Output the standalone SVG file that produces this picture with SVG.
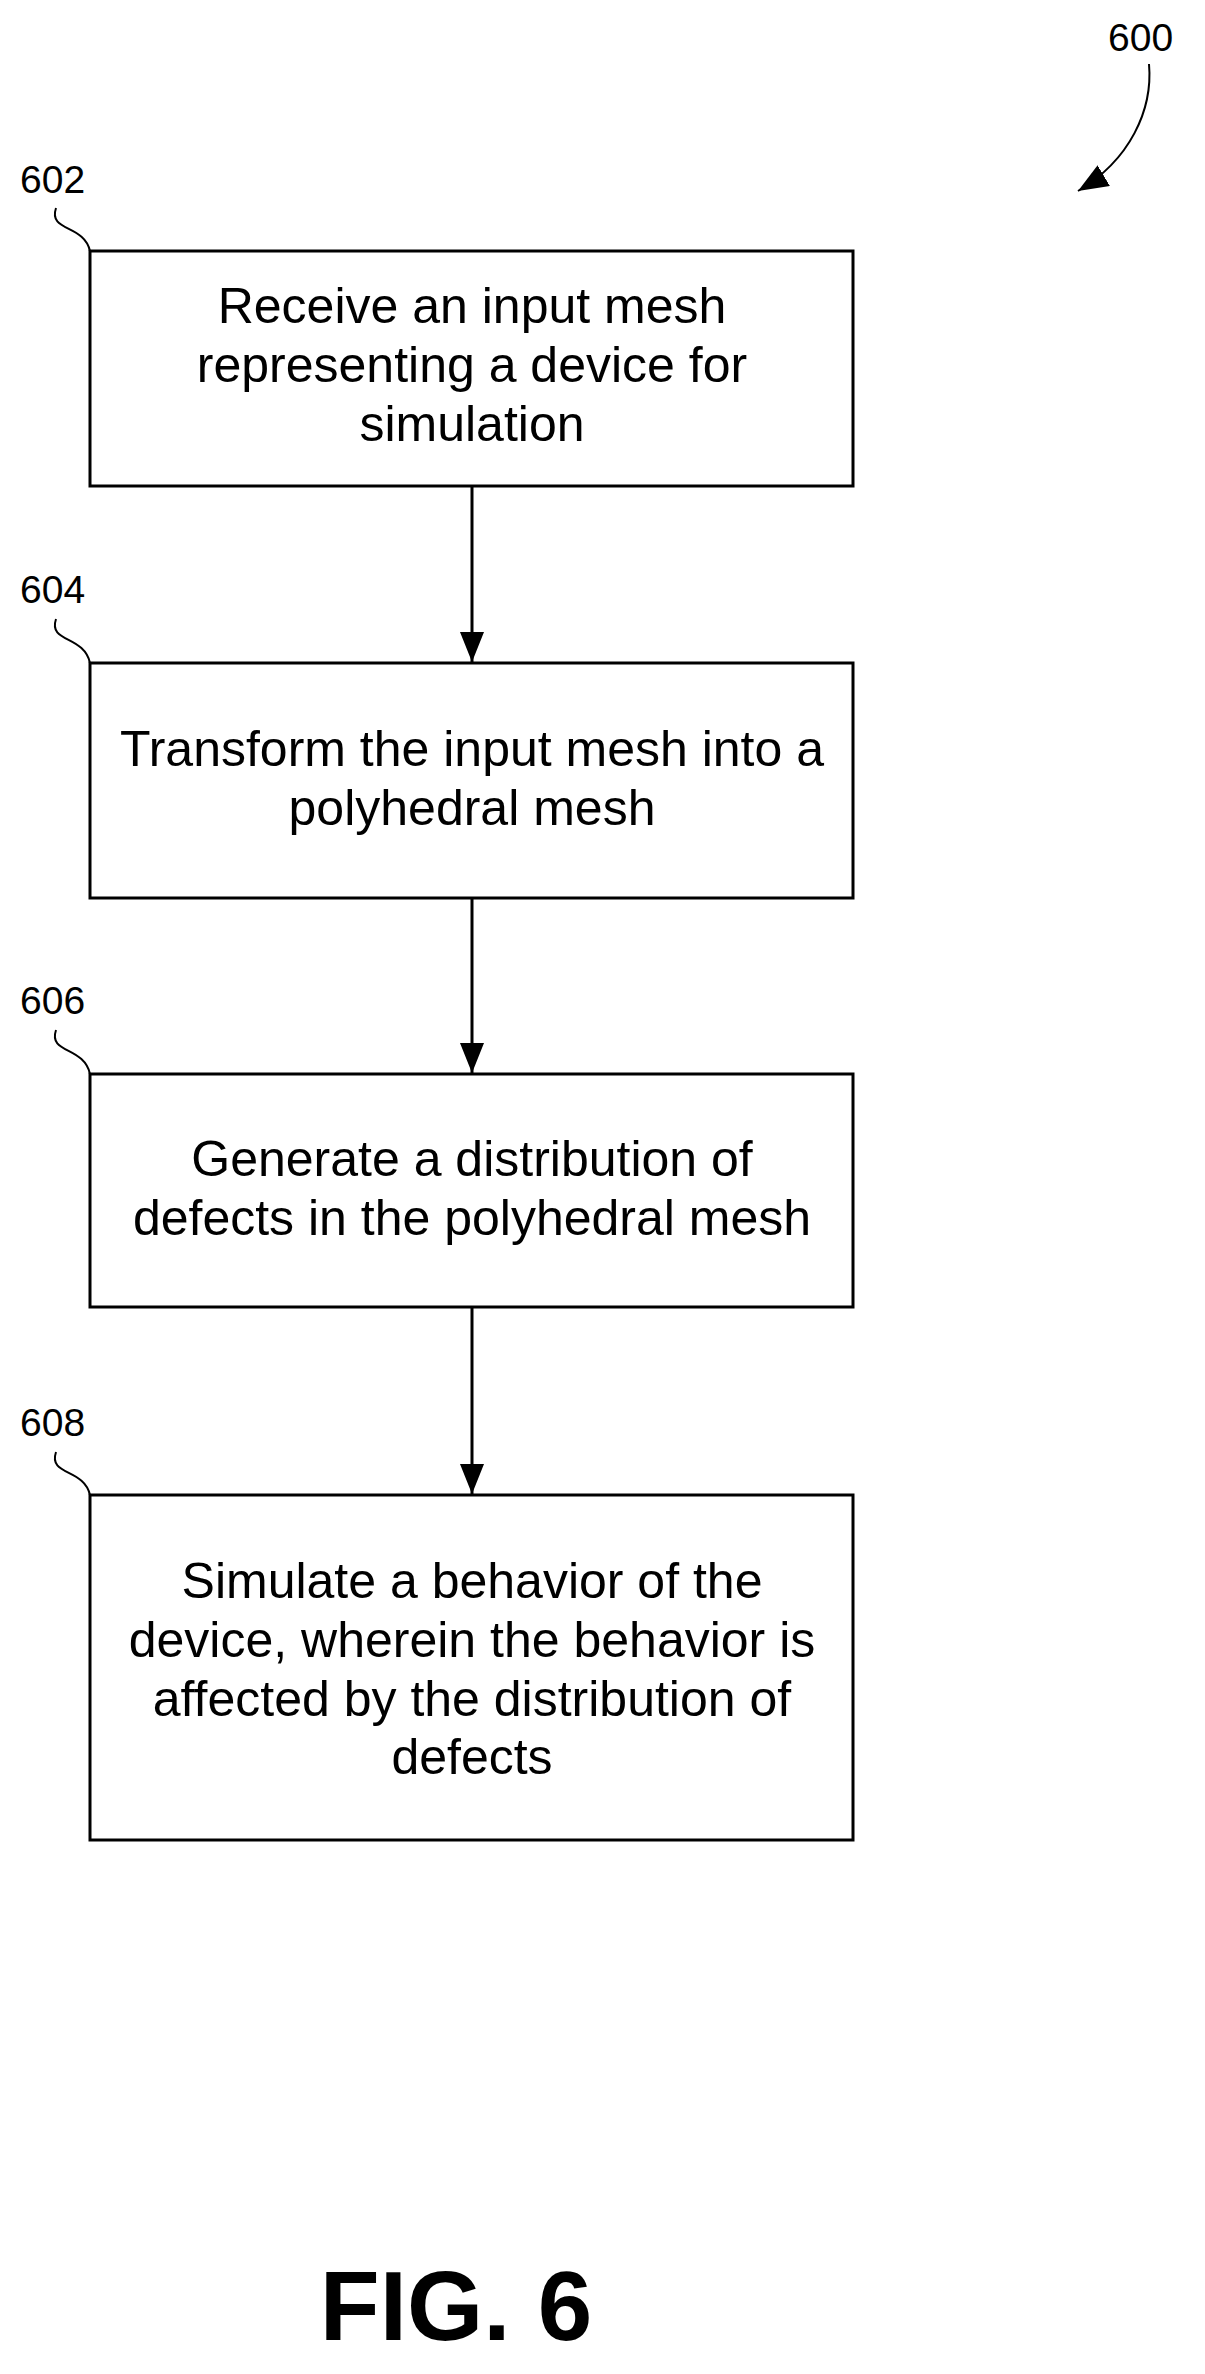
<svg xmlns="http://www.w3.org/2000/svg" width="1205" height="2374" viewBox="0 0 1205 2374">
<style>
.box{fill:#fff;stroke:#000;stroke-width:3}
.t{font-family:"Liberation Sans",Arial,sans-serif;font-size:50px;text-anchor:middle;fill:#000}
.ref{font-family:"Liberation Sans",Arial,sans-serif;font-size:39px;fill:#000}
.lead{fill:none;stroke:#000;stroke-width:2}
.conn{stroke:#000;stroke-width:3;fill:none}
</style>
<defs>
<marker id="ah2" viewBox="0 0 30 24" refX="30" refY="12" markerWidth="30" markerHeight="24" orient="auto" markerUnits="userSpaceOnUse">
<path d="M0,0 L30,12 L0,24 Z" fill="#000"/>
</marker>
</defs>
<g id="ref600">
<text class="ref" x="1108" y="51">600</text>
<path class="lead" d="M1149,64 C1153,110 1130,160 1078,191" stroke-width="3" marker-end="url(#ah2)"/>
</g>
<g id="n602">
<text class="ref" x="20" y="193">602</text>
<path class="lead" d="M56,208 C48,232 84,224 90,251"/>
<rect class="box" x="90" y="251" width="763" height="235"/>
<text class="t" x="472" y="323">Receive an input mesh</text>
<text class="t" x="472" y="382">representing a device for</text>
<text class="t" x="472" y="441">simulation</text>
</g>
<g id="n604">
<text class="ref" x="20" y="603">604</text>
<path class="lead" d="M56,619 C48,643 84,635 90,663"/>
<rect class="box" x="90" y="663" width="763" height="235"/>
<text class="t" x="472" y="766">Transform the input mesh into a</text>
<text class="t" x="472" y="825">polyhedral mesh</text>
</g>
<g id="n606">
<text class="ref" x="20" y="1014">606</text>
<path class="lead" d="M56,1030 C48,1054 84,1046 90,1074"/>
<rect class="box" x="90" y="1074" width="763" height="233"/>
<text class="t" x="472" y="1176">Generate a distribution of</text>
<text class="t" x="472" y="1235">defects in the polyhedral mesh</text>
</g>
<g id="n608">
<text class="ref" x="20" y="1436">608</text>
<path class="lead" d="M56,1452 C48,1476 84,1468 90,1495"/>
<rect class="box" x="90" y="1495" width="763" height="345"/>
<text class="t" x="472" y="1598">Simulate a behavior of the</text>
<text class="t" x="472" y="1657">device, wherein the behavior is</text>
<text class="t" x="472" y="1716">affected by the distribution of</text>
<text class="t" x="472" y="1774">defects</text>
</g>
<g id="connectors">
<line class="conn" x1="472" y1="486" x2="472" y2="662" marker-end="url(#ah2)"/>
<line class="conn" x1="472" y1="898" x2="472" y2="1073" marker-end="url(#ah2)"/>
<line class="conn" x1="472" y1="1307" x2="472" y2="1494" marker-end="url(#ah2)"/>
</g>
<text x="456" y="2340" style="font-family:'Liberation Sans',Arial,sans-serif;font-size:98px;font-weight:bold;text-anchor:middle">FIG. 6</text>
</svg>
